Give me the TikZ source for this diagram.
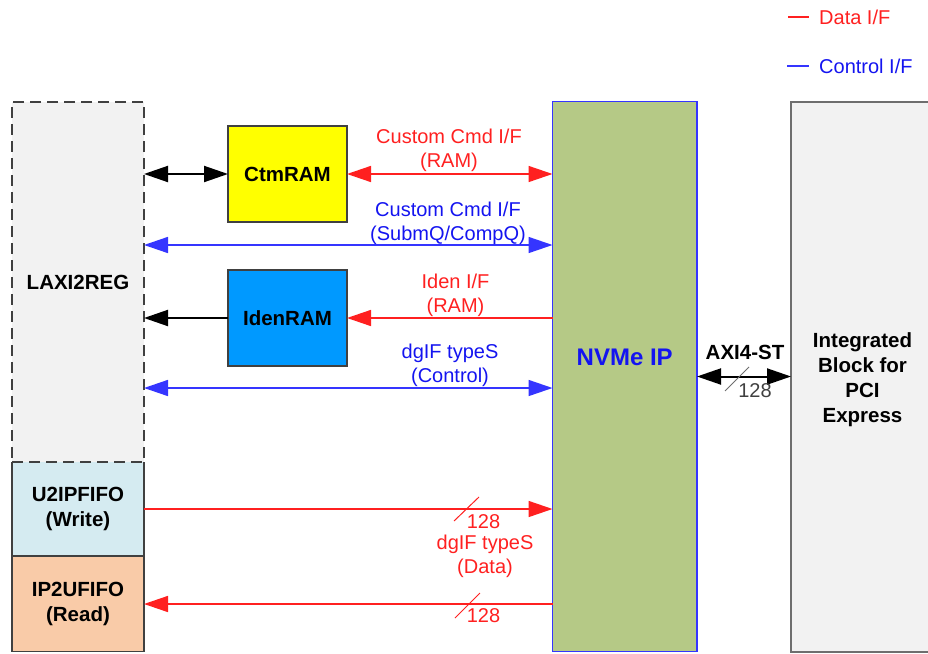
\documentclass[tikz,border=0pt]{standalone}
\usepackage{fontspec}
\setmainfont{Liberation Sans}
\usetikzlibrary{arrows.meta}
\definecolor{lred}{HTML}{FF2020}
\definecolor{lblue}{HTML}{3535FF}
\definecolor{tblue}{HTML}{1414F0}
\definecolor{bgray}{HTML}{404040}
\definecolor{pgray}{HTML}{6E6E6E}
\definecolor{laxifill}{HTML}{F2F2F2}
\definecolor{ctmfill}{HTML}{FFFF00}
\definecolor{idenfill}{HTML}{0099FF}
\definecolor{u2ipfill}{HTML}{D5EBF1}
\definecolor{ip2ufill}{HTML}{F9CBA8}
\definecolor{nvmefill}{HTML}{B5C986}
\begin{document}
\begin{tikzpicture}[x=1pt,y=-1pt,
  lbl/.style={font=\fontsize{20}{24}\selectfont, align=center, anchor=base, inner sep=0pt},
  bfnt/.style={font=\fontsize{20.5}{25}\selectfont\bfseries, align=center},
  blk/.style={draw=bgray, line width=1.5pt, inner sep=0pt, outer sep=0pt},
  plain/.style={inner sep=0pt, outer sep=0pt},
  bi/.style={{Triangle[length=24pt,width=16pt]}-{Triangle[length=24pt,width=16pt]}},
  uni/.style={-{Triangle[length=24pt,width=16pt]}},
  redline/.style={draw=lred, line width=1.5pt},
  blueline/.style={draw=lblue, line width=1.5pt},
  blackline/.style={draw=black, line width=2pt},
  slash/.style={line width=1pt}
]
\useasboundingbox (0,0) rectangle (928,653);

% lower FIFO boxes (no top border on U2IPFIFO, the dashed border is shared)
\node[plain, fill=u2ipfill, minimum width=132pt, minimum height=94pt, bfnt] (u2ip) at (78,509) {U2IPFIFO\\(Write)};
\draw[draw=bgray, line width=1.5pt] (u2ip.north west) -- (u2ip.south west) -- (u2ip.south east) -- (u2ip.north east);
\node[blk, fill=ip2ufill, minimum width=132pt, minimum height=95pt, bfnt] (ip2u) at (78,604) {IP2UFIFO\\(Read)};

% LAXI2REG
\node[blk, dash pattern=on 11pt off 6pt, line width=2pt, fill=laxifill, minimum width=132pt, minimum height=360pt, bfnt] (laxi) at (78,282) {LAXI2REG};

% RAMs
\node[blk, fill=ctmfill, minimum width=119pt, minimum height=96pt, bfnt] (ctm) at (287.5,174) {CtmRAM};
\node[blk, fill=idenfill, minimum width=119pt, minimum height=96pt, bfnt] (iden) at (287.5,318) {IdenRAM};

% NVMe IP
\node[plain, draw=lblue, line width=1.5pt, fill=nvmefill, minimum width=144.5pt, minimum height=550pt] (nvme) at (624.75,376.5) {};
\node[plain, anchor=base, font=\fontsize{24}{28}\selectfont\bfseries, text=tblue] (nvmetxt) at (624.75,365) {NVMe IP};

% PCIe block
\node[plain, draw=pgray, line width=2pt, fill=laxifill, minimum width=150pt, minimum height=549.5pt] (pcie) at (866,376.75) {};
\node[plain, anchor=base, bfnt] (pcietxt) at (862.5,422) {Integrated\\Block for\\PCI\\Express};

% row coordinates
\coordinate (rowq) at (300,245);
\coordinate (rowc) at (300,388);

% connectors
\draw[blackline, bi] (laxi.east |- ctm.west) -- (ctm.west);
\draw[redline, bi] (ctm.east) -- (nvme.west |- ctm.east);
\draw[blueline, bi] (laxi.east |- rowq) -- (nvme.west |- rowq);
\draw[blackline, uni] (iden.west) -- (laxi.east |- iden.west);
\draw[redline, uni] (nvme.west |- iden.east) -- (iden.east);
\draw[blueline, bi] (laxi.east |- rowc) -- (nvme.west |- rowc);
\draw[redline, uni] (u2ip.east) -- (nvme.west |- u2ip.east);
\draw[redline, uni] (nvme.west |- ip2u.east) -- (ip2u.east);
\draw[blackline, bi] (nvme.east) -- (pcie.west |- nvme.east);

% bus width marks
\draw[lred, slash] (454,521) -- (479,497);
\draw[lred, slash] (455,618) -- (480,593);
\draw[pgray, slash] (725,391) -- (749,367);

% connector labels
\node[lbl, text=lred] (lctm) at (449,167) {Custom Cmd I/F\\(RAM)};
\node[lbl, text=tblue] (lq) at (448,240) {Custom Cmd I/F\\(SubmQ/CompQ)};
\node[lbl, text=lred] (liden) at (455.5,312) {Iden I/F\\(RAM)};
\node[lbl, text=tblue] (lctl) at (450,382) {dgIF typeS\\(Control)};
\node[lbl, text=lred] (ldata) at (485,573) {dgIF typeS\\(Data)};
\node[lbl, text=lred] (w1) at (483.5,528) {128};
\node[lbl, text=lred] (w2) at (483.5,622) {128};
\node[lbl, text=bgray] (w3) at (755,397) {128};
\node[plain, anchor=base, bfnt] (laxi4) at (745,359) {AXI4-ST};

% legend
\coordinate (lg1a) at (788,17);
\coordinate (lg1b) at (809,17);
\coordinate (lg2a) at (787,66);
\coordinate (lg2b) at (809,66);
\draw[lred, line width=1.2pt] (lg1a) -- (lg1b);
\draw[lblue, line width=1.2pt] (lg2a) -- (lg2b);
\node[lbl, anchor=base west, text=lred] (lgd) at (819,24) {Data I/F};
\node[lbl, anchor=base west, text=tblue] (lgc) at (819,73) {Control I/F};
\end{tikzpicture}
\end{document}
